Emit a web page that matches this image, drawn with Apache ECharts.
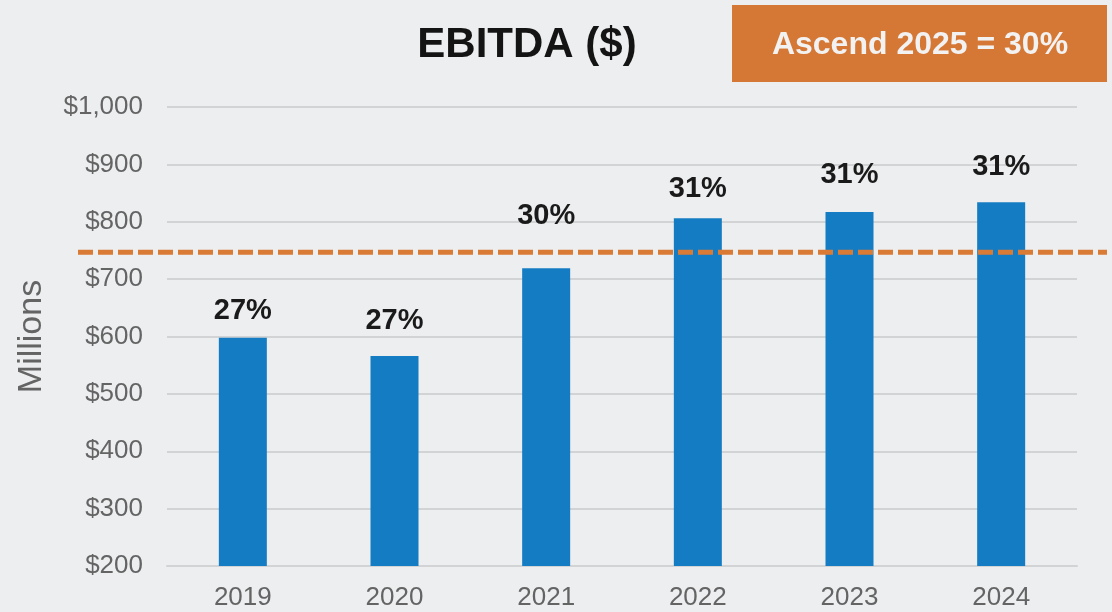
<!DOCTYPE html>
<html>
<head>
<meta charset="utf-8">
<title>EBITDA ($)</title>
<script src="https://cdn.jsdelivr.net/npm/echarts@6/dist/echarts.min.js"></script>
<style>
    html, body { margin: 0; padding: 0; background: #edeef0; }
    #container { width: 1112px; height: 612px; }
</style>
</head>
<body>
<div id="container"></div>
<script>
// chart data
const years = ['2019', '2020', '2021', '2022', '2023', '2024'];
const ebitda = [598, 566, 719, 806, 817, 834];    // $ millions
const margins = [27, 27, 30, 31, 31, 31];         // EBITDA margin %
const target = 747;                               // Ascend 2025 = 30% reference level
const yTicks = [200, 300, 400, 500, 600, 700, 800, 900, 1000];

// label gaps above each bar (styling only)
const labelGap = [12, 21, 38, 15, 22, 21];

const font = "'Liberation Sans', Arial, sans-serif";

var dom = document.getElementById('container');
var myChart = echarts.init(dom);

var barData = [];
for (let i in ebitda) {
    barData.push({
        value: ebitda[i],
        label: { distance: labelGap[i] }
    });
}

var option = {
    backgroundColor: '#edeef0',
    animation: false,
    title: {
        text: 'EBITDA ($)',
        left: 522,
        top: 19,
        textAlign: 'center',
        textStyle: { fontFamily: font, fontSize: 42, fontWeight: 'bold', color: '#141414' }
    },
    graphic: [{
        type: 'group',
        left: 732,
        top: 5,
        children: [{
            type: 'rect',
            shape: { x: 0, y: 0, width: 375, height: 77 },
            style: { fill: '#d57735' }
        }, {
            type: 'text',
            x: 188,
            y: 40,
            style: {
                text: 'Ascend 2025 = 30%',
                fill: '#f2f2f2',
                font: 'bold 32px ' + font,
                textAlign: 'center',
                textVerticalAlign: 'middle'
            }
        }]
    }],
    grid: [
        { left: 167, right: 35, top: 107, bottom: 46 },
        { left: 78, right: 5, top: 107, bottom: 46 }
    ],
    xAxis: [{
        type: 'category',
        gridIndex: 0,
        data: years,
        axisTick: { show: false },
        axisLine: { lineStyle: { color: '#d2d3d5', width: 2 } },
        axisLabel: { fontFamily: font, fontSize: 26, color: '#646464', margin: 19 }
    }, {
        type: 'value',
        gridIndex: 1,
        min: 0,
        max: 1,
        show: false
    }],
    yAxis: [{
        type: 'value',
        gridIndex: 0,
        min: yTicks[0],
        max: yTicks[yTicks.length - 1],
        interval: 100,
        name: 'Millions',
        nameLocation: 'middle',
        nameRotate: 90,
        nameGap: 118,
        nameTextStyle: { fontFamily: font, fontSize: 34, color: '#646464' },
        axisLine: { show: false },
        axisTick: { show: false },
        splitLine: { lineStyle: { color: '#d2d3d5', width: 2 } },
        axisLabel: {
            fontFamily: font,
            fontSize: 26,
            color: '#646464',
            margin: 24,
            formatter: function (v) { return '$' + v.toLocaleString('en-US'); }
        }
    }, {
        type: 'value',
        gridIndex: 1,
        min: yTicks[0],
        max: yTicks[yTicks.length - 1],
        show: false
    }],
    series: [{
        type: 'bar',
        xAxisIndex: 0,
        yAxisIndex: 0,
        data: barData,
        barWidth: 48,
        itemStyle: { color: '#147cc3' },
        label: {
            show: true,
            position: 'top',
            fontFamily: font,
            fontSize: 29,
            fontWeight: 'bold',
            color: '#1a1a1a',
            formatter: function (p) { return margins[p.dataIndex] + '%'; }
        }
    }, {
        type: 'line',
        xAxisIndex: 1,
        yAxisIndex: 1,
        data: [[0, target], [1, target]],
        symbol: 'none',
        lineStyle: { color: '#d97a35', width: 5, type: [15, 5] },
        z: 5
    }]
};

if (option && typeof option === 'object') {
    myChart.setOption(option);
}
window.addEventListener('resize', myChart.resize);
</script>
</body>
</html>
